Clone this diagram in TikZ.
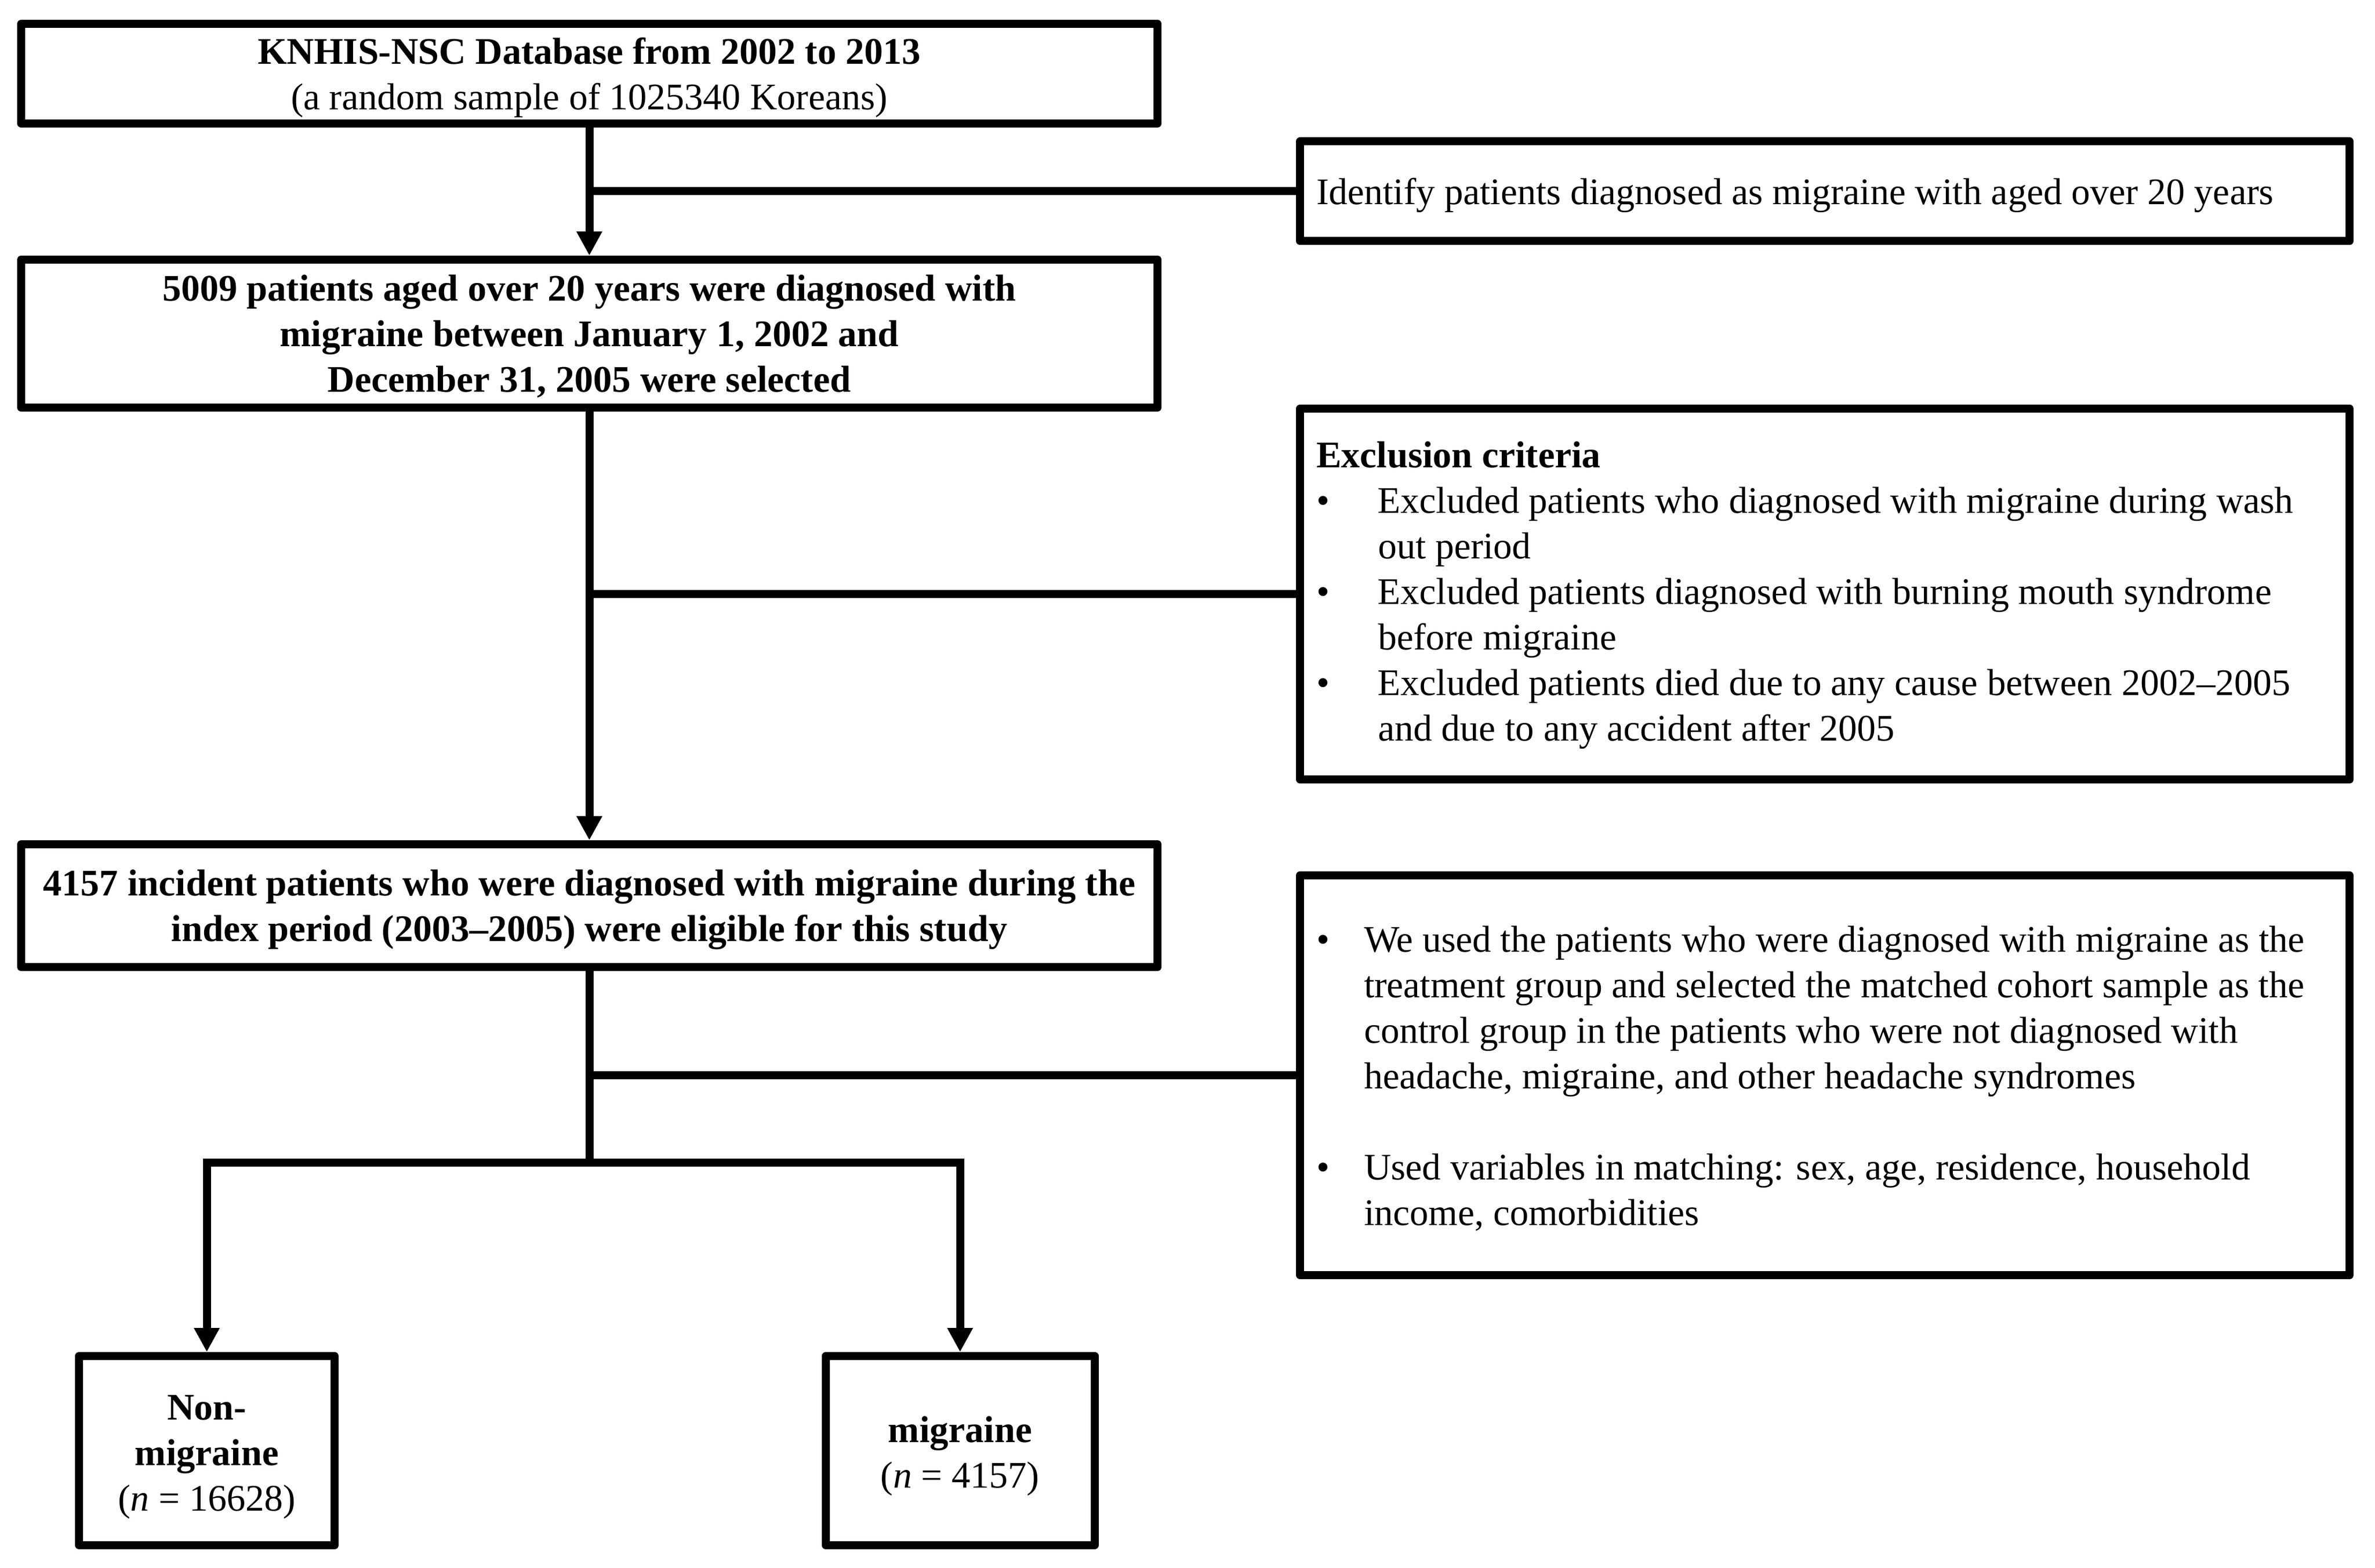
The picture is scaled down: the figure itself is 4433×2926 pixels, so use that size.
\documentclass[tikz,border=0pt]{standalone}
\usepackage{fontspec}
\setmainfont{Liberation Serif}
\usetikzlibrary{arrows.meta}
\newcommand\mybul[1]{\makebox[#1][l]{\textbullet}}
\newcommand\myind[1]{\hspace*{#1}}
\begin{document}
\begin{tikzpicture}[x=0.2pt,y=-0.2pt,
  box/.style={draw=black, line width=3pt, line join=round, inner sep=0pt},
  ctxt/.style={inner sep=0pt, align=center, font=\fontsize{14}{17}\selectfont},
  bctxt/.style={ctxt, font=\fontsize{14}{17}\selectfont\bfseries},
  txt/.style={inner sep=0pt, align=left, font=\fontsize{14}{17}\selectfont},
  conn/.style={line width=3pt},
  arr/.style={conn, -{Triangle[width=9pt,length=9pt]}}
]
\useasboundingbox (0,0) rectangle (4433,2926);

% left column boxes
\node[box, minimum width=424.2pt, minimum height=37.2pt] (db) at (1100,137.5) {};
\node[ctxt] (dbtxt) at (1100,144.5)
  {\textbf{KNHIS-NSC Database from 2002 to 2013}\\(a random sample of 1025340 Koreans)};

\node[box, minimum width=424.2pt, minimum height=55.2pt] (sel) at (1100,622.5) {};
\node[bctxt] (seltxt) at (1100,628)
  {5009 patients aged over 20 years were diagnosed with\\migraine between January 1, 2002 and\\December 31, 2005 were selected};

\node[box, minimum width=424.2pt, minimum height=45.8pt] (elig) at (1100,1690) {};
\node[bctxt] (eligtxt) at (1100,1697)
  {4157 incident patients who were diagnosed with migraine during the\\index period (2003--2005) were eligible for this study};

\node[box, minimum width=95.4pt, minimum height=70.6pt] (non) at (386,2707) {};
\node[ctxt] (nontxt) at (386,2719.5)
  {\textbf{Non-}\\\textbf{migraine}\\(\textit{n} = 16628)};

\node[box, minimum width=100.4pt, minimum height=70.6pt] (mig) at (1792,2707) {};
\node[ctxt] (migtxt) at (1792,2717)
  {\textbf{migraine}\\(\textit{n} = 4157)};

% right column boxes
\node[box, minimum width=391.8pt, minimum height=37.2pt] (ident) at (3406,357) {};
\node[txt, anchor=base west] (identtxt) at (2456,382)
  {Identify patients diagnosed as migraine with aged over 20 years};

\node[box, minimum width=391.8pt, minimum height=138.4pt] (excl) at (3406,1108.5) {};
\node[txt, anchor=base west] (excltxt) at (2456,1383)
  {\textbf{Exclusion criteria}\\
   \mybul{23pt}Excluded patients who diagnosed with migraine during wash\\
   \myind{23pt}out period\\
   \mybul{23pt}Excluded patients diagnosed with burning mouth syndrome\\
   \myind{23pt}before migraine\\
   \mybul{23pt}Excluded patients died due to any cause between 2002--2005\\
   \myind{23pt}and due to any accident after 2005};

\node[box, minimum width=391.8pt, minimum height=149.2pt] (match) at (3406,2006.5) {};
\node[txt, anchor=base west] (matchtxt) at (2456,2286)
  {\mybul{17.8pt}We used the patients who were diagnosed with migraine as the\\
   \myind{17.8pt}treatment group and selected the matched cohort sample as the\\
   \myind{17.8pt}control group in the patients who were not diagnosed with\\
   \myind{17.8pt}headache, migraine, and other headache syndromes\\[17pt]
   \mybul{17.8pt}Used variables in matching: sex, age, residence, household\\
   \myind{17.8pt}income, comorbidities};

% connectors
\draw[arr] (db.south) -- (sel.north);
\draw[conn] (ident.west) -- (ident.west -| db.south);
\draw[arr] (sel.south) -- (elig.north);
\draw[conn] (excl.west) -- (excl.west -| sel.south);
\coordinate (split) at (1100,2169.5);
\draw[conn] (elig.south) -- (split);
\draw[conn] (match.west) -- (match.west -| elig.south);
\draw[arr] (split) -| (non.north);
\draw[arr] (split) -| (mig.north);
\end{tikzpicture}
\end{document}
